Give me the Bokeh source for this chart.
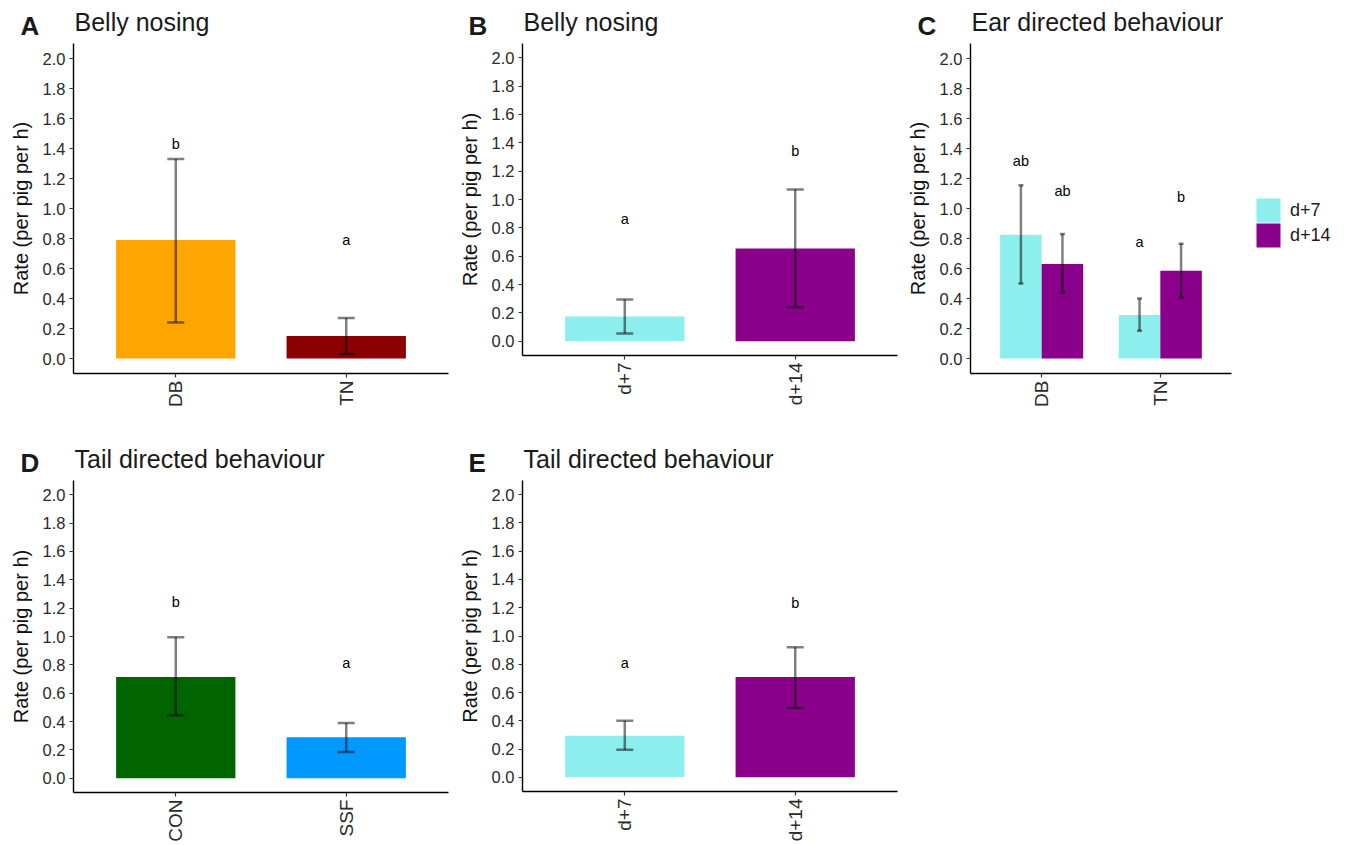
from bokeh.plotting import figure
from bokeh.models import (Range1d, FixedTicker, Whisker, TeeHead, ColumnDataSource,
                          Legend, LegendItem, NumeralTickFormatter)
from bokeh.layouts import column, row
from bokeh.embed import file_html
from bokeh.resources import INLINE
from bokeh.core.properties import value

FONT = "Liberation Sans"

# ---------------- data ----------------
y_ticks = [0.0, 0.2, 0.4, 0.6, 0.8, 1.0, 1.2, 1.4, 1.6, 1.8, 2.0]
y_label = "Rate (per pig per h)"

# A: Belly nosing by treatment
a_cats = ["DB", "TN"]
a_mean = [0.79, 0.15]
a_lo = [0.24, 0.03]
a_hi = [1.33, 0.27]
a_sig = ["b", "a"]
a_sig_y = [1.43, 0.79]
a_colors = ["#FFA500", "#8B0000"]

# B: Belly nosing by day
b_cats = ["d+7", "d+14"]
b_mean = [0.175, 0.655]
b_lo = [0.055, 0.24]
b_hi = [0.295, 1.07]
b_sig = ["a", "b"]
b_sig_y = [0.86, 1.34]
b_colors = ["#8DEEEE", "#8B008B"]

# C: Ear directed behaviour, treatment x day
c_cats = ["DB", "TN"]
c_groups = ["d+7", "d+14"]
c_d7_mean = [0.825, 0.29]
c_d7_lo = [0.50, 0.185]
c_d7_hi = [1.155, 0.40]
c_d7_sig = ["ab", "a"]
c_d7_sig_y = [1.315, 0.78]
c_d14_mean = [0.63, 0.585]
c_d14_lo = [0.44, 0.405]
c_d14_hi = [0.83, 0.765]
c_d14_sig = ["ab", "b"]
c_d14_sig_y = [1.12, 1.08]
c_colors = ["#8DEEEE", "#8B008B"]

# D: Tail directed behaviour by enrichment
d_cats = ["CON", "SSF"]
d_mean = [0.715, 0.29]
d_lo = [0.445, 0.185]
d_hi = [0.995, 0.39]
d_sig = ["b", "a"]
d_sig_y = [1.24, 0.81]
d_colors = ["#006400", "#0099FF"]

# E: Tail directed behaviour by day
e_cats = ["d+7", "d+14"]
e_mean = [0.295, 0.71]
e_lo = [0.195, 0.49]
e_hi = [0.40, 0.92]
e_sig = ["a", "b"]
e_sig_y = [0.81, 1.23]
e_colors = ["#8DEEEE", "#8B008B"]

# panel headings
top_letters = ["A", "B", "C"]
top_titles = ["Belly nosing", "Belly nosing", "Ear directed behaviour"]
bot_letters = ["D", "E"]
bot_titles = ["Tail directed behaviour", "Tail directed behaviour"]

# ---------------- layout constants (pixels) ----------------
W = 1346
HDR1_H = 43
TOP_H = 412 - HDR1_H
HDR2_H = 480 - 412
BOT_H = 844 - 480
letter_x_top = [20, 468, 917]
title_x_top = [74, 523, 971]
letter_x_bot = [20, 468]
title_x_bot = [74, 523]

ERR_ALPHA = 0.5
ERR_W = 2.5


def header(w, h, letters, lx, titles, tx, lbase, tbase):
    p = figure(width=w, height=h, output_backend="svg", toolbar_location=None,
               title=None, x_range=Range1d(0, w), y_range=Range1d(h, 0),
               x_axis_type=None, y_axis_type=None, min_border=0)
    p.grid.visible = False
    p.outline_line_color = None
    p.text(x=lx, y=[lbase] * len(letters), text=letters, text_font=value(FONT),
           text_font_style="bold", text_font_size="26px", text_color="#1a1a1a",
           text_baseline="alphabetic", text_align="left")
    p.text(x=tx, y=[tbase] * len(titles), text=titles, text_font=value(FONT),
           text_font_size="25px", text_color="#1a1a1a",
           text_baseline="alphabetic", text_align="left")
    return p


def base_fig(w, h, left, right, top, bottom, x_end, x_axis_end):
    p = figure(width=w, height=h, output_backend="svg", toolbar_location=None, title=None,
               x_range=Range1d(0.4, x_end), y_range=Range1d(-0.1, 2.1),
               min_border_left=left, min_border_right=right,
               min_border_top=top, min_border_bottom=bottom)
    p.grid.visible = False
    p.outline_line_color = None
    p.background_fill_color = "white"
    p.border_fill_color = "white"
    p.xaxis.bounds = (0.4, x_axis_end)
    p.xaxis.major_label_orientation = 3.14159265 / 2
    p.yaxis.ticker = FixedTicker(ticks=y_ticks)
    p.yaxis.formatter = NumeralTickFormatter(format="0.0")
    p.yaxis.axis_label = y_label
    p.yaxis.axis_label_text_font = FONT
    p.yaxis.axis_label_text_font_size = "20px"
    p.yaxis.axis_label_text_font_style = "normal"
    p.yaxis.axis_label_text_color = "#111111"
    p.yaxis.axis_label_standoff = 8
    for ax in (p.xaxis, p.yaxis):
        ax.axis_line_color = "black"
        ax.axis_line_width = 1.4
        ax.major_tick_line_color = "#333333"
        ax.major_tick_line_width = 1.2
        ax.major_tick_out = 4
        ax.major_tick_in = 0
        ax.minor_tick_line_color = None
        ax.major_label_text_font = FONT
        ax.major_label_text_color = "#2a2a2a"
    p.yaxis.major_label_text_font_size = "16.5px"
    p.yaxis.major_label_standoff = 4
    p.xaxis.major_label_text_font_size = "19px"
    p.xaxis.major_label_standoff = 3
    return p


def set_cats(p, cats):
    p.xaxis.ticker = FixedTicker(ticks=list(range(1, len(cats) + 1)))
    p.xaxis.major_label_overrides = {i + 1: c for i, c in enumerate(cats)}


def add_err(p, src, cap):
    head = dict(size=cap, line_color="black", line_alpha=ERR_ALPHA, line_width=ERR_W)
    p.add_layout(Whisker(source=src, base="x", upper="hi", lower="lo", dimension="height",
                         line_color="black", line_alpha=ERR_ALPHA, line_width=ERR_W,
                         upper_head=TeeHead(**head), lower_head=TeeHead(**head),
                         level="annotation"))


def add_sig(p, src):
    p.text(x="x", y="sy", text="sig", source=src, text_font=value(FONT),
           text_font_size="14.5px", text_align="center", text_baseline="middle",
           text_color="black")


def simple_panel(w, h, left, right, top, bottom, cats, mean, lo, hi, sig, sig_y, colors):
    n = len(cats)
    p = base_fig(w, h, left, right, top, bottom, n + 0.6, n + 0.6)
    set_cats(p, cats)
    src = ColumnDataSource(dict(x=list(range(1, n + 1)), top=mean, lo=lo, hi=hi,
                                sig=sig, sy=sig_y, color=colors))
    p.vbar(x="x", top="top", bottom=0, width=0.7, fill_color="color", line_color=None,
           source=src)
    add_err(p, src, 17)
    add_sig(p, src)
    return p


# top row: frames A 73..448 x 43..373, B 522..897 x 43..355, C 970..1231 x 43..373
y0 = HDR1_H
pA = simple_panel(450, TOP_H, 73, 2, 43 - y0, y0 + TOP_H - 373, a_cats, a_mean, a_lo,
                  a_hi, a_sig, a_sig_y, a_colors)
pB = simple_panel(450, TOP_H, 72, 3, 43 - y0, y0 + TOP_H - 355, b_cats, b_mean, b_lo,
                  b_hi, b_sig, b_sig_y, b_colors)

# C: frame extended to the right edge so that the legend sits inside it
c_n = len(c_cats)
c_axis_end = c_n + 0.6
c_px_per_unit = (1231 - 970) / (c_axis_end - 0.4)
c_x_end = 0.4 + (W - 970) / c_px_per_unit
pC = base_fig(W - 900, TOP_H, 70, 0, 43 - y0, y0 + TOP_H - 373, c_x_end, c_axis_end)
set_cats(pC, c_cats)
dodge = 0.175
renderers = []
for mean, lo, hi, sig, sy, col, off in [
        (c_d7_mean, c_d7_lo, c_d7_hi, c_d7_sig, c_d7_sig_y, c_colors[0], -dodge),
        (c_d14_mean, c_d14_lo, c_d14_hi, c_d14_sig, c_d14_sig_y, c_colors[1], dodge)]:
    xs = [i + 1 + off for i in range(c_n)]
    src = ColumnDataSource(dict(x=xs, top=mean, lo=lo, hi=hi, sig=sig, sy=sy))
    r = pC.vbar(x="x", top="top", bottom=0, width=0.35, fill_color=col, line_color=None,
                source=src)
    renderers.append(r)
    add_err(pC, src, 5)
    add_sig(pC, src)

# legend: one entry per Legend so the 24px swatches sit 1px apart
# (area swatches are drawn at 80% of the glyph box -> 30px box gives 24px swatch)
legend_tops = [195, 220]
for lab, r, top in zip(c_groups, renderers, legend_tops):
    lg = Legend(items=[LegendItem(label=lab, renderers=[r])],
                location=(1253 - 970, 373 - (top + 30)), glyph_width=30, glyph_height=30,
                label_height=30, spacing=0, padding=0, margin=0, label_standoff=7,
                label_text_font=FONT, label_text_font_size="18px",
                label_text_color="#1a1a1a", border_line_color=None,
                background_fill_alpha=0)
    pC.add_layout(lg, "center")

# bottom row: frames D 73..448 x 480..793, E 522..897 x 480..792
pD = simple_panel(450, BOT_H, 73, 2, 0, 51, d_cats, d_mean, d_lo, d_hi, d_sig,
                  d_sig_y, d_colors)
pE = simple_panel(450, BOT_H, 72, 3, 0, 51, e_cats, e_mean, e_lo, e_hi, e_sig,
                  e_sig_y, e_colors)

h1 = header(W, HDR1_H, top_letters, letter_x_top, top_titles, title_x_top, 25, 21)
h2 = header(W, HDR2_H, bot_letters, letter_x_bot, bot_titles, title_x_bot, 50, 46)

layout = column(h1, row(column(pA), column(pB), column(pC)), h2,
                row(column(pD), column(pE)))

open("out.html", "w").write(file_html(layout, INLINE))
